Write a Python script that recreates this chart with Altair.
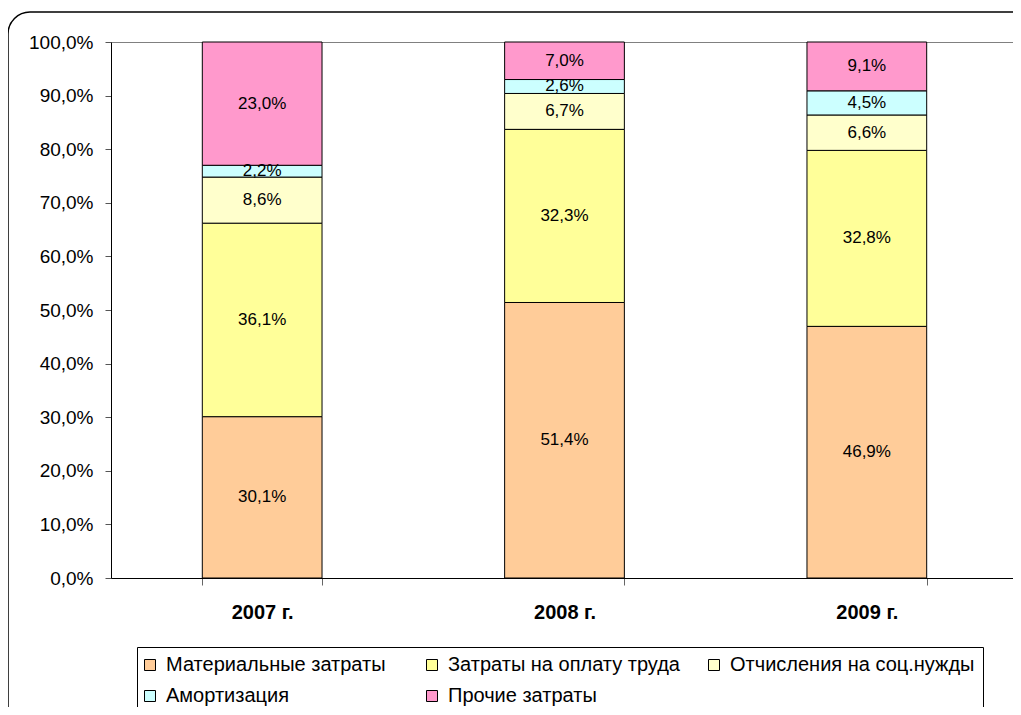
import altair as alt
import pandas as pd

years = ["2007 г.", "2008 г.", "2009 г."]
categories = [
    "Материальные затраты",
    "Затраты на оплату труда",
    "Отчисления на соц.нужды",
    "Амортизация",
    "Прочие затраты",
]
colors = ["#FFCC99", "#FFFF99", "#FFFFCC", "#CCFFFF", "#FF99CC"]

materials = [30.1, 51.4, 46.9]
labor = [36.1, 32.3, 32.8]
social = [8.6, 6.7, 6.6]
amort = [2.2, 2.6, 4.5]
other = [23.0, 7.0, 9.1]
series = [materials, labor, social, amort, other]

y_ticks = [i / 10 for i in range(11)]

rows = []
for ci, (cat, vals) in enumerate(zip(categories, series)):
    for yr, v in zip(years, vals):
        rows.append({"year": yr, "cat": cat, "idx": ci, "value": v})
df = pd.DataFrame(rows)

FONT = "Liberation Sans"

base = alt.Chart(df).transform_stack(
    stack="value",
    groupby=["year"],
    as_=["v0", "v1"],
    sort=[alt.SortField("idx", order="ascending")],
    offset="normalize",
).transform_calculate(
    mid="(datum.v0 + datum.v1) / 2",
    label="replace(format(datum.value, '.1f'), '.', ',') + '%'",
)

x_scale = alt.Scale(paddingInner=0.604, paddingOuter=0.302, range=[0, 907])

x_enc = alt.X(
    "year:N",
    sort=years,
    scale=x_scale,
    axis=alt.Axis(
        title=None,
        labelAngle=0,
        labelFontWeight="bold",
        labelFontSize=20,
        labelColor="black",
        tickBand="extent",
        tickSize=7,
        tickColor="#666666",
        domainColor="black",
        labelPadding=17,
    ),
)

bars = base.mark_bar(stroke="black", strokeWidth=1).encode(
    x=x_enc,
    y=alt.Y(
        "v0:Q",
        scale=alt.Scale(domain=[0, 1], nice=False),
        axis=alt.Axis(
            title=None,
            values=y_ticks,
            labelExpr="replace(format(datum.value, '.1%'), '.', ',')",
            grid=False,
            tickSize=6,
            tickColor="#555555",
            domainColor="black",
            labelFontSize=19,
            labelColor="black",
            labelPadding=12,
        ),
    ),
    y2="v1:Q",
    color=alt.Color(
        "cat:N",
        scale=alt.Scale(domain=categories, range=colors),
        legend=alt.Legend(
            title=None,
            orient="none",
            legendX=26,
            legendY=605,
            direction="horizontal",
            columns=3,
            gridAlign="all",
            symbolType="square",
            symbolSize=121,
            symbolStrokeColor="black",
            symbolStrokeWidth=1,
            symbolOpacity=1,
            symbolOffset=-5,
            labelFontSize=20,
            labelColor="black",
            labelLimit=400,
            labelOffset=6,
            columnPadding=13,
            rowPadding=11,
            padding=8,
            strokeColor="black",
            fillColor="white",
        ),
    ),
    order=alt.Order("idx:Q", sort="ascending"),
)

labels = base.mark_text(fontSize=17, color="black", baseline="middle").encode(
    x=alt.X("year:N", sort=years),
    y=alt.Y("mid:Q"),
    text="label:N",
)

border = alt.Chart(alt.Data(values=[{}])).mark_rect(
    fillOpacity=0, stroke="black", strokeWidth=1.5, cornerRadius=22
).encode(
    x=alt.value(-103),
    x2=alt.value(930),
    y=alt.value(-30),
    y2=alt.value(700),
)

chart = (
    alt.layer(border, bars, labels)
    .properties(
        width=902,
        height=536,
        autosize=alt.AutoSizeParams(type="none"),
        padding={"left": 103, "top": 34, "right": 0, "bottom": 129},
    )
    .configure(font=FONT)
    .configure_view(stroke="#808080", strokeWidth=1)
)

chart.save("out.html", embed_options={"renderer": "svg", "actions": False})
